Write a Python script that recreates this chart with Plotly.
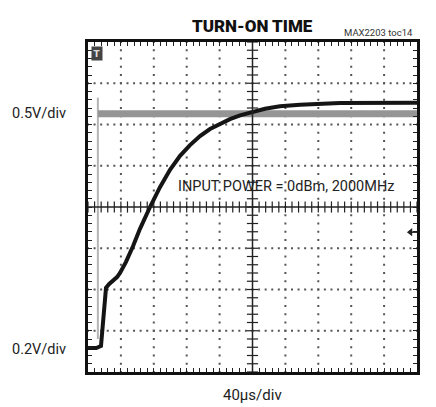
import numpy as np
import plotly.graph_objects as go

# ---- data (time in microseconds, amplitude in screen divisions, 0 = bottom) ----
out_t = [0, 10, 15.8, 18.2, 20.7, 21.9, 25.5, 30.4, 35.3, 38.9, 46.2, 54.7, 63.2, 75.4,
         87.5, 99.7, 111.9, 124.0, 136.2, 148.3, 160.5, 172.6, 184.8, 197.0, 215.2,
         233.4, 257.8, 306.4, 355.0, 400]
out_v = [0.58, 0.58, 0.63, 1.14, 1.75, 2.04, 2.13, 2.21, 2.30, 2.40, 2.67, 3.05, 3.47, 4.00,
         4.48, 4.90, 5.24, 5.50, 5.72, 5.89, 6.02, 6.13, 6.22, 6.29, 6.38,
         6.44, 6.48, 6.52, 6.53, 6.53]
enable_edge_t = [12, 12]
enable_edge_v = [0.8, 6.65]
enable_t = [12, 400]
enable_v = [6.26, 6.26]

x_divs = 10
y_divs = 8
us_per_div = 40

fig = go.Figure()

# dotted graticule
gx, gy = [], []
for k in range(1, y_divs):
    if k == y_divs // 2:
        continue
    xs = np.arange(0, us_per_div * x_divs + 0.01, us_per_div / 5)
    gx += list(xs); gy += [k] * len(xs)
for k in range(1, x_divs):
    if k == x_divs // 2:
        continue
    ys = np.arange(0, y_divs + 0.01, 0.2)
    gx += [k * us_per_div] * len(ys); gy += list(ys)
fig.add_trace(go.Scatter(x=gx, y=gy, mode="markers",
                         marker=dict(symbol="square", size=2, color="#555"),
                         hoverinfo="skip", showlegend=False))

# center cross with minor ticks
cx = us_per_div * x_divs / 2
cy = y_divs / 2
fig.add_shape(type="line", x0=0, x1=us_per_div * x_divs, y0=cy, y1=cy,
              line=dict(color="#222", width=1.5))
fig.add_shape(type="line", x0=cx, x1=cx, y0=0, y1=y_divs,
              line=dict(color="#222", width=1.5))
tx = np.arange(0, us_per_div * x_divs + 0.01, us_per_div / 5)
fig.add_trace(go.Scatter(x=tx, y=[cy] * len(tx), mode="markers",
                         marker=dict(symbol="line-ns", size=8, line=dict(width=1.2, color="#222")),
                         hoverinfo="skip", showlegend=False))
ty = np.arange(0, y_divs + 0.01, 0.2)
fig.add_trace(go.Scatter(x=[cx] * len(ty), y=ty, mode="markers",
                         marker=dict(symbol="line-ew", size=8, line=dict(width=1.2, color="#222")),
                         hoverinfo="skip", showlegend=False))

# traces
fig.add_trace(go.Scatter(x=enable_edge_t, y=enable_edge_v, mode="lines",
                         line=dict(color="#b4b4b4", width=2), hoverinfo="skip", showlegend=False))
fig.add_trace(go.Scatter(x=enable_t, y=enable_v, mode="lines",
                         line=dict(color="#959595", width=7), hoverinfo="skip", showlegend=False))
fig.add_trace(go.Scatter(x=out_t, y=out_v, mode="lines",
                         line=dict(color="#151515", width=4), hoverinfo="skip", showlegend=False))

# trigger level marker (right edge) and trigger icon
fig.add_trace(go.Scatter(x=[392], y=[3.39], mode="markers",
                         marker=dict(symbol="triangle-left", size=7, color="#222"),
                         hoverinfo="skip", showlegend=False))
fig.add_shape(type="line", x0=392, x1=400, y0=3.39, y1=3.39, line=dict(color="#222", width=1.5))
fig.add_annotation(x=11, y=7.72, text="<b>T</b>", showarrow=False,
                   font=dict(family="DejaVu Sans", size=9, color="#ddd"),
                   bgcolor="#444", borderpad=1.5)

fnt = "Roboto, sans-serif"
fig.add_annotation(x=0.5, y=1, xref="paper", yref="paper", yshift=28, xanchor="center",
                   text="TURN-ON TIME", showarrow=False,
                   font=dict(family=fnt, size=17, color="#111", weight=900))
fig.add_annotation(x=1, y=1, xref="paper", yref="paper", xanchor="right", yanchor="bottom",
                   xshift=-2, yshift=2, text="MAX2203 toc14", showarrow=False,
                   font=dict(family=fnt, size=9.5, color="#333"))
fig.add_annotation(x=240.7, y=4.5, text="INPUT POWER = 0dBm, 2000MHz", showarrow=False,
                   font=dict(family=fnt, size=14.5, color="#222"))
fig.add_annotation(x=0.5, y=0, xref="paper", yref="paper", yanchor="top", yshift=-12,
                   text="40µs/div", showarrow=False, font=dict(family=fnt, size=15, color="#222"))
fig.add_annotation(x=0, y=6.26, xref="paper", xanchor="right", xshift=-20,
                   text="0.5V/div", showarrow=False, font=dict(family=fnt, size=14.5, color="#222"))
fig.add_annotation(x=0, y=0.55, xref="paper", xanchor="right", xshift=-20,
                   text="0.2V/div", showarrow=False, font=dict(family=fnt, size=14.5, color="#222"))

ax_common = dict(showgrid=False, zeroline=False, showticklabels=False,
                 showline=True, linewidth=3, linecolor="#111", mirror="ticks",
                 ticks="inside", ticklen=4, tickwidth=1, tickcolor="#222")
fig.update_xaxes(range=[0, us_per_div * x_divs], tick0=0, dtick=us_per_div / 5, **ax_common)
fig.update_yaxes(range=[0, y_divs], tick0=0, dtick=0.2, **ax_common)

# page body has an 8px margin, so the figure is 8px smaller and margins shifted
fig.update_layout(width=428, height=399, margin=dict(l=80, r=19, t=34, b=35),
                  plot_bgcolor="white", paper_bgcolor="white")
fig.write_html("out.html")
